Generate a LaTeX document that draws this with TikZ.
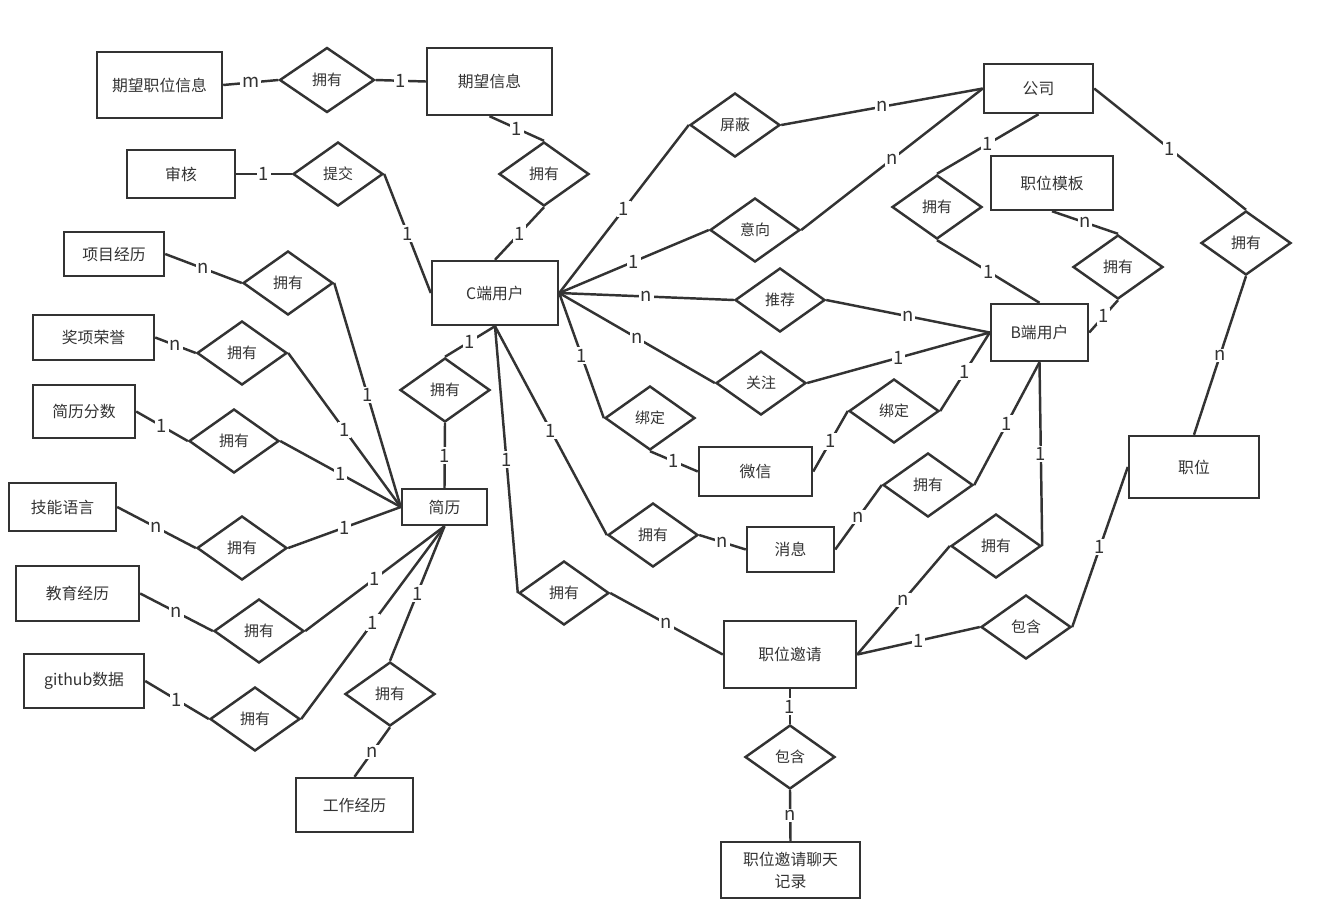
\documentclass[tikz,border=0pt]{standalone}
\usepackage{fontspec}
\setmainfont{Noto Sans CJK SC}
\usetikzlibrary{shapes, shapes.geometric, positioning}
\definecolor{erline}{HTML}{333333}

\begin{document}
\begin{tikzpicture}[
  x=0.02cm, y=-0.02cm,
  line width=1.4pt, draw=erline,
  ent/.style={rectangle, draw=erline, text=erline, inner sep=2pt, font=\fontsize{9}{12.5}\selectfont},
  rel/.style={diamond, draw=erline, text=erline, aspect=1.4, minimum width=1.8cm, minimum height=1.28cm, inner sep=0pt, font=\fontsize{8.5}{10}\selectfont},
  card/.style={midway, fill=white, text=erline, inner sep=1pt, font=\fontsize{10.5}{11}\selectfont}]

  \useasboundingbox (0,0) rectangle (1320,921);

  \node[ent, minimum width=2.5cm, minimum height=1.32cm] (qwzw) at (159.5,85) {期望职位信息};
  \node[ent, minimum width=2.5cm, minimum height=1.34cm] (qwxx) at (489.5,81.5) {期望信息};
  \node[ent, minimum width=2.16cm, minimum height=0.96cm] (sh) at (181,174) {审核};
  \node[ent, minimum width=2cm, minimum height=0.88cm] (xmjl) at (114,254) {项目经历};
  \node[ent, minimum width=2.42cm, minimum height=0.9cm] (jxry) at (93.5,337.5) {奖项荣誉};
  \node[ent, minimum width=2.04cm, minimum height=1.06cm] (jlfs) at (84,411.5) {简历分数};
  \node[ent, minimum width=2.14cm, minimum height=0.96cm] (jnyy) at (62.5,507) {技能语言};
  \node[ent, minimum width=2.46cm, minimum height=1.1cm] (jyjl) at (77.5,593.5) {教育经历};
  \node[ent, minimum width=2.4cm, minimum height=1.08cm] (github) at (84,681) {github数据};
  \node[ent, minimum width=2.34cm, minimum height=1.08cm] (gzjl) at (354.5,805) {工作经历};
  \node[ent, minimum width=2.52cm, minimum height=1.28cm] (cuser) at (495,293) {C端用户};
  \node[ent, minimum width=1.7cm, minimum height=0.72cm] (jl) at (444.5,507) {简历};
  \node[ent, minimum width=2.18cm, minimum height=0.98cm] (gs) at (1038.5,88.5) {公司};
  \node[ent, minimum width=2.44cm, minimum height=1.08cm] (zwmb) at (1052,183) {职位模板};
  \node[ent, minimum width=1.94cm, minimum height=1.14cm] (buser) at (1039.5,332.5) {B端用户};
  \node[ent, minimum width=2.6cm, minimum height=1.24cm] (zw) at (1194,467) {职位};
  \node[ent, minimum width=2.26cm, minimum height=0.98cm] (wx) at (755.5,471.5) {微信};
  \node[ent, minimum width=1.74cm, minimum height=0.9cm] (xx) at (790.5,549.5) {消息};
  \node[ent, minimum width=2.64cm, minimum height=1.34cm] (zwyq) at (790,654.5) {职位邀请};
  \node[ent, minimum width=2.78cm, minimum height=1.12cm, align=center] (ltjl) at (790.5,870) {职位邀请聊天\\记录};

  \node[rel, minimum width=1.9cm, minimum height=1.3cm] (r1) at (327,80) {拥有};
  \node[rel] (r2) at (544,174) {拥有};
  \node[rel] (r3) at (338,174) {提交};
  \node[rel] (r4) at (288,283) {拥有};
  \node[rel] (r5) at (242,353) {拥有};
  \node[rel] (r6) at (234,441) {拥有};
  \node[rel] (r7) at (242,548) {拥有};
  \node[rel] (r8) at (259,631) {拥有};
  \node[rel] (r9) at (255,719) {拥有};
  \node[rel] (r10) at (390,694) {拥有};
  \node[rel] (r11) at (445,390) {拥有};
  \node[rel] (r12) at (735,125) {屏蔽};
  \node[rel] (r13) at (755,230) {意向};
  \node[rel] (r14) at (780,300) {推荐};
  \node[rel] (r15) at (761,383) {关注};
  \node[rel] (r16) at (650,418) {绑定};
  \node[rel] (r17) at (894,411) {绑定};
  \node[rel] (r18) at (653,535) {拥有};
  \node[rel] (r19) at (928,485) {拥有};
  \node[rel] (r20) at (564,593) {拥有};
  \node[rel] (r21) at (996,546) {拥有};
  \node[rel] (r22) at (1026,627) {包含};
  \node[rel] (r23) at (790,757) {包含};
  \node[rel] (r24) at (937,207) {拥有};
  \node[rel] (r25) at (1118,267) {拥有};
  \node[rel] (r26) at (1246,243) {拥有};

  \path
    (qwzw.east) edge node[card]{m} (r1.west)
    (r1.east) edge node[card]{1} (qwxx.west)
    (qwxx.south) edge node[card]{1} (r2.north)
    (r2.south) edge node[card]{1} (cuser.north)
    (sh.east) edge node[card]{1} (r3.west)
    (r3.east) edge node[card]{1} (cuser.west);

  \path
    (xmjl.east) edge node[card]{n} (r4.west)
    (r4.east) edge node[card]{1} (jl.west)
    (jxry.east) edge node[card]{n} (r5.west)
    (r5.east) edge node[card]{1} (jl.west)
    (jlfs.east) edge node[card]{1} (r6.west)
    (r6.east) edge node[card]{1} (jl.west)
    (jnyy.east) edge node[card]{n} (r7.west)
    (r7.east) edge node[card]{1} (jl.west)
    (jyjl.east) edge node[card]{n} (r8.west)
    (r8.east) edge node[card]{1} (jl.south)
    (github.east) edge node[card]{1} (r9.west)
    (r9.east) edge node[card]{1} (jl.south)
    (jl.south) edge node[card]{1} (r10.north)
    (r10.south) edge node[card]{n} (gzjl.north)
    (cuser.south) edge node[card]{1} (r11.north)
    (r11.south) edge node[card]{1} (jl.north);

  \path
    (cuser.south) edge node[card]{1} (r20.west)
    (cuser.south) edge node[card]{1} (r18.west)
    (cuser.east) edge node[card]{1} (r16.west)
    (r16.south) edge node[card]{1} (wx.west)
    (wx.east) edge node[card]{1} (r17.west)
    (r17.east) edge node[card]{1} (buser.west)
    (r18.east) edge node[card]{n} (xx.west)
    (xx.east) edge node[card]{n} (r19.west)
    (r19.east) edge node[card]{1} (buser.south)
    (buser.south) edge node[card]{1} (r21.east)
    (r21.west) edge node[card]{n} (zwyq.east)
    (zwyq.east) edge node[card]{1} (r22.west)
    (r22.east) edge node[card]{1} (zw.west)
    (r20.east) edge node[card]{n} (zwyq.west)
    (zwyq.south) edge node[card]{1} (r23.north)
    (r23.south) edge node[card]{n} (ltjl.north);

  \path
    (cuser.east) edge node[card]{1} (r12.west)
    (r12.east) edge node[card]{n} (gs.west)
    (cuser.east) edge node[card]{1} (r13.west)
    (r13.east) edge node[card]{n} (gs.west)
    (cuser.east) edge node[card]{n} (r14.west)
    (r14.east) edge node[card]{n} (buser.west)
    (cuser.east) edge node[card]{n} (r15.west)
    (r15.east) edge node[card]{1} (buser.west)
    (gs.south) edge node[card]{1} (r24.north)
    (r24.south) edge node[card]{1} (buser.north)
    (zwmb.south) edge node[card]{n} (r25.north)
    (r25.south) edge node[card]{1} (buser.east)
    (gs.east) edge node[card]{1} (r26.north)
    (r26.south) edge node[card]{n} (zw.north);
\end{tikzpicture}
\end{document}
